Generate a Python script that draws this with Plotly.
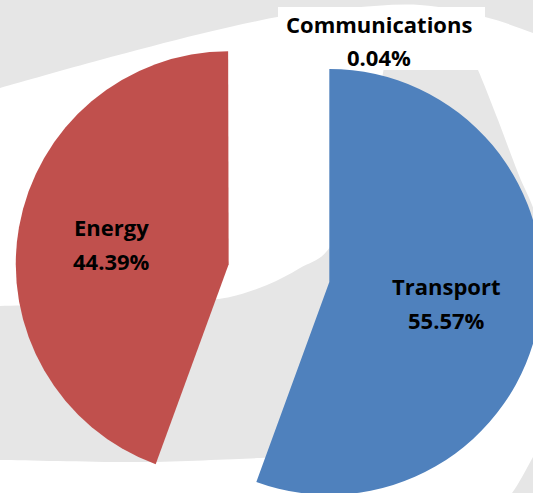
import math
import plotly.graph_objects as go

# slice data (share of total, %)
labels = ["Transport", "Energy", "Communications"]
values = [55.57, 44.39, 0.04]
colors = ["#4F81BD", "#C0504D", "rgba(0,0,0,0)"]  # 0.04% slice is too thin to see

# page geometry: the pie is a little larger than the window, as in the source image
W, H = 543, 537
ML, MT = 15, 9
PW, PH = W - ML, H - MT
PULL = 0.24
GRAY = "#E6E6E6"
FONT = dict(family="Open Sans", size=22, color="#000000", weight="bold")


def px2paper(x, y):
    return (x - ML) / PW, 1 - (y - MT) / PH


def curve(pts, start=True):
    """Catmull-Rom through pixel points -> cubic bezier segments in paper coords"""
    p = [px2paper(x, y) for x, y in pts]
    n = len(p)
    out = ("M {:.4f},{:.4f}" if start else " L {:.4f},{:.4f}").format(*p[0])
    for i in range(n - 1):
        p0 = p[i - 1] if i > 0 else p[i]
        p1, p2 = p[i], p[i + 1]
        p3 = p[i + 2] if i + 2 < n else p2
        c1 = (p1[0] + (p2[0] - p0[0]) / 6, p1[1] + (p2[1] - p0[1]) / 6)
        c2 = (p2[0] - (p3[0] - p1[0]) / 6, p2[1] - (p3[1] - p1[1]) / 6)
        out += " C {:.4f},{:.4f} {:.4f},{:.4f} {:.4f},{:.4f}".format(*c1, *c2, *p2)
    return out


def lines(pts):
    return "".join(" L {:.4f},{:.4f}".format(*px2paper(x, y)) for x, y in pts)


# grey swoosh watermark behind the chart
top_path = curve([(560, 44), (533, 33), (485, 17), (420, 5), (350, 8), (283, 16),
                  (200, 34), (100, 60), (0, 88), (-20, 94)])
top_path += lines([(-20, -20), (560, -20)]) + " Z"

oval_path = curve([(-20, 307), (0, 306), (120, 303), (200, 300), (230, 297), (267, 285),
                   (300, 268), (330, 247), (360, 180), (378, 100), (392, 45), (430, 22),
                   (465, 45), (478, 70), (498, 120), (518, 173), (532, 205), (548, 250)])
oval_path += lines([(520, 330), (480, 400), (400, 450)])
oval_path += curve([(300, 457), (260, 458), (140, 462), (0, 460), (-20, 460)], start=False)
oval_path += " Z"

corner_path = curve([(495, 505), (512, 493), (533, 457), (548, 430)])
corner_path += lines([(560, 430), (560, 520), (495, 520)]) + " Z"

shapes = [dict(type="path", path=pth, xref="paper", yref="paper",
               fillcolor=GRAY, line_width=0, layer="below")
          for pth in (top_path, oval_path, corner_path)]

# white box behind the small-slice label
x0, y0 = px2paper(278, 7)
x1, y1 = px2paper(485, 70)
shapes.append(dict(type="rect", x0=x0, y0=y0, x1=x1, y1=y1, xref="paper", yref="paper",
                   fillcolor="white", line_width=0, layer="below"))

fig = go.Figure(go.Pie(
    labels=labels,
    values=values,
    sort=False,
    direction="clockwise",
    rotation=0,
    pull=[PULL] * len(values),
    marker=dict(colors=colors, line=dict(width=0)),
    textinfo="none",
    showlegend=False,
    hoverinfo="label+percent",
))

# data labels (Excel style: name over percent, a bit more leading than plotly's)
total = sum(values)
r = min(PW, PH) / 2 / (1 + PULL)
cx, cy = ML + PW / 2, MT + PH / 2
cum = 0
for lab, val in zip(labels, values):
    share = val / total
    a = math.radians((cum + val / 2) / total * 360)
    cum += val
    if share < 0.01:
        # tiny slice: label sits in its own white box above the pie
        pos = [(379, 24), (379, 57)]
    else:
        d = (PULL + 0.56) * r
        lx, ly = cx + d * math.sin(a), cy - d * math.cos(a)
        pos = [(lx, ly - 17), (lx, ly + 17)]
    for txt, (x, y) in zip([lab, f"{share:.2%}"], pos):
        ax, ay = px2paper(x, y)
        fig.add_annotation(x=ax, y=ay, xref="paper", yref="paper", showarrow=False,
                           xanchor="center", yanchor="middle", text=txt, font=FONT)

fig.update_layout(
    width=W, height=H,
    margin=dict(l=ML, r=0, t=MT, b=0),
    paper_bgcolor="white",
    plot_bgcolor="white",
    shapes=shapes,
)

fig.write_html(
    "out.html",
    config={"displayModeBar": False},
    post_script="document.body.style.margin='0';document.body.style.overflow='hidden';"
                "document.documentElement.style.overflow='hidden';",
)
